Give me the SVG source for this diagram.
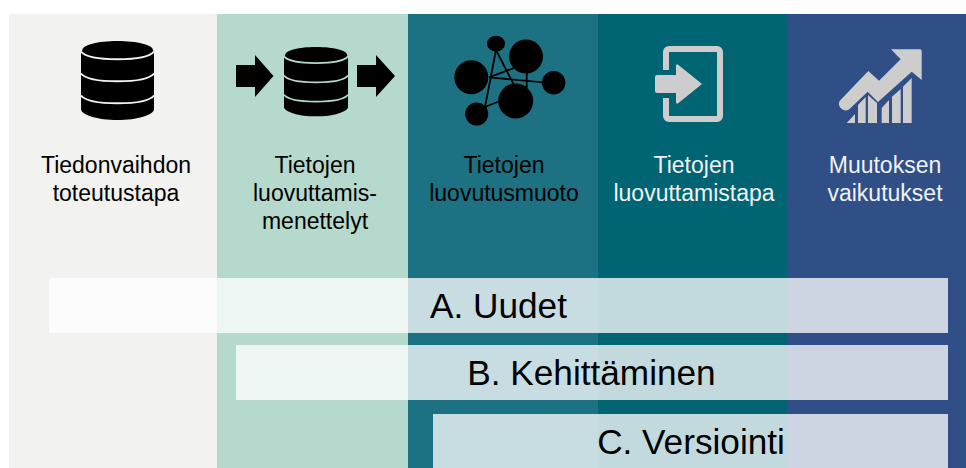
<svg xmlns="http://www.w3.org/2000/svg" width="966" height="468" viewBox="0 0 966 468">
<style>
text{font-family:"Liberation Sans",Arial,sans-serif;text-anchor:middle}
.l{font-size:23px}
.b{font-size:35.200px;fill:#000}
.w{fill:#f2f2f2}
.k{fill:#000}
.bar{fill:#fff;fill-opacity:.76}
.g{fill:#cdcdcd}
</style>
<defs>
<g id="db">
<path d="M1.500 9C1.500 4 17 0 36.500 0S72 4 72 9L73 11V68C73 74 56 79 36.500 79S0 74 0 68V11Z" fill="#000"/>
<path d="M0 10.700C4 15.500 18 18.300 36.500 18.300S69 15.500 73 10.700M0 32.500C4 37.500 18 40.300 36.500 40.300S69 37.500 73 32.500M0 54.500C4 59.500 18 62.300 36.500 62.300S69 59.500 73 54.500" fill="none" stroke="currentColor" stroke-width="2"/>
</g>
</defs>
<rect width="966" height="468" fill="#fff"/>
<g id="col1"><rect x="9" y="14" width="208" height="454" fill="#f2f2f0"/>
<use href="#db" x="81" y="41" color="#f2f2f0"/>
<text class="l" x="116" y="173">Tiedonvaihdon</text><text class="l" x="116" y="201">toteutustapa</text></g>
<g id="col2"><rect x="217" y="14" width="191" height="454" fill="#b5d9cc"/>
<use href="#db" transform="translate(284 47) scale(.877)" color="#b5d9cc"/>
<path class="k" d="M236 65H255V55L273.500 76L255 97V87H236ZM357 65H376V55L395 76L376 97V87H357Z"/>
<text class="l" x="315" y="173">Tietojen</text><text class="l" x="315" y="201">luovuttamis-</text><text class="l" x="315" y="229">menettelyt</text></g>
<g id="col3"><rect x="408" y="14" width="190" height="454" fill="#1c7283"/>
<g class="k"><ellipse cx="496" cy="43.700" rx="9" ry="8"/><circle cx="526" cy="56.500" r="17"/><circle cx="471.300" cy="77.300" r="17"/><circle cx="553.700" cy="82.700" r="11.700"/><circle cx="515.700" cy="101" r="17.500"/><circle cx="476.700" cy="114" r="11.500"/></g>
<path d="M496 50L485 107M496 50L515 87M489 77.300L515 67.700M489 77.300L543 82.300M526.700 71V88M485 107L500 101" fill="none" stroke="#000" stroke-width="1.800"/>
<text class="l k" x="504" y="173">Tietojen</text><text class="l k" x="504" y="201">luovutusmuoto</text></g>
<g id="col4"><rect x="598" y="14" width="189" height="454" fill="#006472"/>
<path class="g" d="M669 46H717A6 6 0 0 1 723 52V116A6 6 0 0 1 717 122H669A6 6 0 0 1 663 116V98H669V116H717V52H669V70H663V52A6 6 0 0 1 669 46Z"/>
<path class="g" d="M657 75H676V66Q676 63 678.500 65L702 84L678.500 103Q676 105 676 102V93H657Q655 93 655 91V77Q655 75 657 75Z"/>
<text class="l w" x="694" y="173">Tietojen</text><text class="l w" x="694" y="201">luovuttamistapa</text></g>
<g id="col5"><rect x="787" y="14" width="179" height="454" fill="#2f4f86"/>
<path class="g" d="M840 100.500L868.300 71L879 80.700L900.700 59.300L891 49.300H920Q921.700 49.300 921.700 51V80L911.700 71.700L878 102L867.700 91.700L849 109.500Q844 112 840.500 108Q837.500 104 840 100.500Z"/>
<path class="g" d="M846.700 123L855 114V123ZM858 123V105L865.700 97V123ZM868 123V95L877 103V123ZM881.700 123V108L889 100V123ZM892 123V96.700L900.700 89V123ZM903 123V86.700L911.700 78V123Z"/>
<text class="l w" x="885" y="173">Muutoksen</text><text class="l w" x="885" y="201">vaikutukset</text></g>
<g id="barA"><rect class="bar" x="49" y="278" width="899" height="55"/><text class="b" x="498.500" y="318">A. Uudet</text></g>
<g id="barB"><rect class="bar" x="236" y="345" width="712" height="55"/><text class="b" x="591.500" y="385">B. Kehittäminen</text></g>
<g id="barC"><rect class="bar" x="433" y="414" width="515" height="54"/><text class="b" x="691" y="454">C. Versiointi</text></g>
</svg>
